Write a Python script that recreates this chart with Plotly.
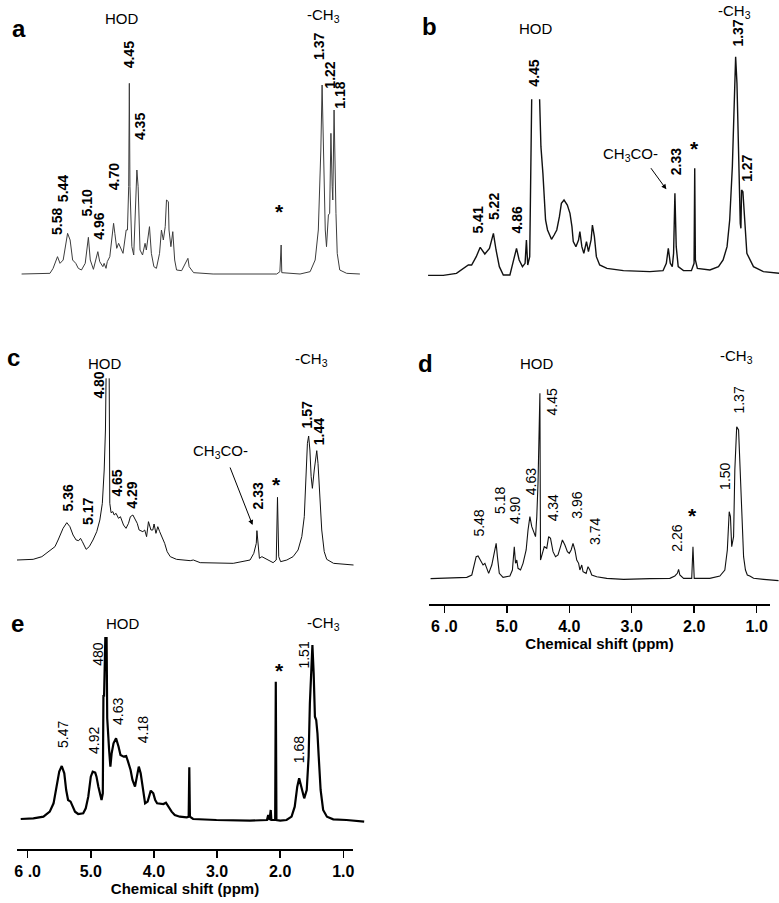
import plotly.graph_objects as go

W, H = 779, 903
FONT = "Liberation Sans"

# ---------------- data (ppm, relative intensity) ----------------
a_ppm = [6.16,5.71,5.66,5.59,5.55,5.50,5.43,5.39,5.35,5.30,5.26,5.21,5.15,5.12,5.10,5.07,5.02,4.95,4.92,4.87,4.85,4.82,4.80,4.76,4.70,4.68,4.65,4.62,4.59,4.55,4.50,4.48,4.46,4.45,4.44,4.41,4.38,4.33,4.31,4.28,4.24,4.20,4.18,4.13,4.10,4.06,4.02,3.97,3.94,3.91,3.88,3.86,3.83,3.82,3.79,3.76,3.73,3.70,3.62,3.57,3.52,3.50,3.43,3.12,2.38,2.11,2.06,2.04,2.03,1.74,1.58,1.50,1.45,1.41,1.39,1.37,1.34,1.32,1.29,1.27,1.25,1.23,1.22,1.20,1.19,1.17,1.15,1.11,1.00,0.79]
a_int = [-2,0,15,50,30,40,120,100,40,30,15,10,30,80,108,40,12,65,35,20,30,15,35,50,150,120,75,90,75,60,130,130,260,570,260,80,55,310,260,70,55,90,70,140,60,20,15,60,130,100,140,220,215,130,80,125,40,10,8,25,45,20,2,-2,-2,-2,5,85,2,-2,5,40,130,370,565,400,130,80,175,180,420,260,220,490,360,180,60,10,0,-2]

b_ppm = [6.06,5.83,5.63,5.52,5.45,5.40,5.33,5.27,5.20,5.13,5.07,5.03,4.98,4.92,4.82,4.77,4.72,4.68,4.63,4.59,4.57,4.55,4.52,4.49,None,4.37,4.35,4.32,4.30,4.28,4.25,4.21,4.19,4.15,4.11,4.07,4.04,4.00,3.95,3.91,3.88,3.86,3.82,3.78,3.76,3.73,3.70,3.66,3.63,3.59,3.57,3.54,3.51,3.46,3.35,3.10,2.70,2.50,2.45,2.42,2.39,2.36,2.34,2.32,2.30,2.27,2.19,2.07,2.03,2.02,2.01,1.98,1.79,1.66,1.59,1.53,1.49,1.45,1.42,1.40,1.38,1.35,1.33,1.32,1.31,1.29,1.27,1.23,1.13,0.98,0.74]
b_int = [-1,-1,5,20,30,30,55,83,63,80,125,75,25,0,0,40,80,45,25,35,105,30,55,527,None,527,385,305,225,165,135,117,107,120,135,175,215,225,210,185,145,100,85,105,130,85,65,100,70,105,150,115,55,30,20,13,10,13,35,80,35,25,65,245,85,25,13,13,35,320,45,20,15,25,45,85,165,325,495,655,575,275,155,140,255,250,175,65,25,10,5]

c_ppm = [6.25,5.99,5.85,5.77,5.69,5.64,5.59,5.56,5.51,5.45,5.40,5.35,5.30,5.26,5.23,5.20,5.14,5.09,5.03,4.97,4.92,4.88,4.85,4.83,4.82,None,4.77,4.76,4.74,4.71,4.69,4.66,4.62,4.59,4.54,4.50,4.46,4.43,4.39,4.36,4.32,4.29,4.23,4.20,4.17,4.14,4.10,4.07,4.05,4.02,3.99,3.96,3.91,3.88,3.84,3.79,3.69,3.47,3.42,3.31,2.78,2.51,2.45,2.41,2.40,2.38,2.36,2.32,2.30,2.24,2.14,2.09,2.07,2.05,2.02,1.92,1.82,1.74,1.68,1.64,1.61,1.59,1.57,1.55,1.53,1.51,1.48,1.46,1.44,1.42,1.39,1.36,1.32,1.28,1.17,0.85]
c_int = [0,2,10,22,35,40,60,75,95,112,100,75,60,58,65,55,32,40,60,85,120,170,270,390,545,None,545,170,142,145,135,140,125,130,105,95,110,130,135,125,110,90,85,90,70,115,90,90,108,80,100,85,65,50,25,10,2,-2,0,-8,-10,0,20,50,88,40,5,10,8,0,-8,0,188,10,-5,0,10,30,70,130,270,350,372,330,250,215,270,310,328,290,190,90,25,2,-10,-15]

d_ppm = [6.22,5.91,5.64,5.56,5.53,5.49,5.46,5.42,5.38,5.35,5.32,5.29,5.24,5.20,5.17,5.15,5.12,5.06,4.95,4.91,4.88,4.86,4.84,4.82,4.78,4.74,4.69,4.66,4.63,4.60,4.56,4.54,4.52,4.50,4.47,4.46,4.43,4.40,4.36,4.33,4.30,4.26,4.22,4.18,4.14,4.11,4.07,4.03,4.00,3.97,3.94,3.91,3.88,3.85,3.83,3.80,3.78,3.73,3.70,3.67,3.64,3.56,3.40,3.13,2.71,2.39,2.31,2.27,2.25,2.23,2.17,2.04,2.02,2.00,1.75,1.59,1.51,1.47,1.44,1.42,1.40,1.37,1.35,1.32,1.29,1.27,1.24,1.21,1.18,1.15,1.11,1.05,0.89,0.65]
d_int = [-1,0,3,10,35,65,67,55,40,45,30,15,40,80,105,65,15,3,7,25,95,45,55,30,25,45,85,145,185,155,135,125,185,285,555,55,75,95,90,125,120,80,65,70,95,115,100,80,75,85,105,85,55,45,25,40,20,15,35,25,10,5,0,-3,-1,0,7,15,27,10,0,0,95,0,0,7,25,85,200,185,95,125,325,455,445,345,185,65,25,10,7,0,-3,-7]

e_ppm = [6.11,5.91,5.75,5.65,5.59,5.54,5.50,5.46,5.42,5.39,5.36,5.32,5.29,5.25,5.20,5.12,5.08,5.04,5.00,4.97,4.93,4.91,4.88,4.85,4.83,4.81,4.80,4.79,4.77,4.75,4.74,4.73,4.72,4.71,4.69,4.67,4.64,4.60,4.56,4.53,4.48,4.44,4.41,4.37,4.34,4.30,4.27,4.24,4.21,4.18,4.14,4.10,4.07,4.05,4.01,3.98,3.95,3.90,3.85,3.81,3.77,3.72,3.67,3.59,3.48,3.45,3.44,3.43,3.38,3.01,2.48,2.21,2.19,2.17,2.15,2.14,2.08,2.07,2.06,2.00,1.90,1.82,1.77,1.73,1.70,1.68,1.64,1.62,1.58,1.55,1.53,1.50,1.49,1.47,1.45,1.43,1.41,1.39,1.36,1.32,1.26,1.16,0.95,0.67]
e_int = [-2,0,5,20,45,95,140,157,135,85,55,50,35,20,13,15,30,65,125,140,137,125,95,65,55,75,370,365,541,541,300,250,245,205,155,195,225,240,215,190,185,187,170,145,115,95,125,155,135,90,45,50,75,83,75,55,45,43,43,47,35,20,10,5,3,5,153,5,-2,-5,-7,-5,10,-5,25,-5,-5,410,-5,-7,-5,5,35,95,120,105,70,60,85,185,345,465,520,435,305,295,255,185,85,25,5,-3,-5,-10]

tick_vals = [6, 5, 4, 3, 2, 1]
tick_text = ["6 .0", "5.0", "4.0", "3.0", "2.0", "1.0"]
axis_title = "Chemical shift (ppm)"

# peak labels: (text, ppm, intensity)
a_labels = [("5.58",5.61,155),("5.44",5.49,255),("5.10",5.12,210),("4.96",4.93,140),("4.70",4.70,290),
            ("4.45",4.45,655),("4.35",4.29,440),("1.37",1.45,680),("1.22",1.27,595),("1.18",1.11,535)]
b_labels = [("5.41",5.31,165),("5.22",5.07,205),("4.86",4.72,165),("4.45",4.45,605),("2.33",2.31,340),
            ("1.37",1.36,725),("1.27",1.22,320)]
c_labels = [("4.80",4.94,525),("5.36",5.43,185),("5.17",5.12,145),("4.65",4.64,230),("4.29",4.41,195),
            ("2.33",2.39,192),("1.57",1.59,435),("1.44",1.41,385)]
d_labels = [("5.48",5.44,165),("5.18",5.11,235),("4.90",4.87,205),("4.63",4.62,290),("4.45",4.28,530),
            ("4.34",4.26,210),("3.96",3.88,220),("3.74",3.60,140),("2.26",2.27,120),("1.50",1.52,305),
            ("1.37",1.29,535)]
e_labels = [("480",4.88,495),("5.47",5.44,250),("4.92",4.95,235),("4.63",4.58,320),("4.18",4.17,265),
            ("1.51",1.63,490),("1.68",1.70,205)]

# headers: (text, ppm, intensity)
a_heads = [("HOD",4.57,765),("-CH<sub>3</sub>",1.37,775)]
b_heads = [("HOD",4.43,740),("-CH<sub>3</sub>",1.41,792),("CH<sub>3</sub>CO-",3.00,362)]
c_heads = [("HOD",4.84,590),("-CH<sub>3</sub>",1.52,600),("CH<sub>3</sub>CO-",2.99,325)]
d_heads = [("HOD",4.52,645),("-CH<sub>3</sub>",1.32,665)]
e_heads = [("HOD",4.49,586),("-CH<sub>3</sub>",1.32,586)]
stars = {"a": (2.07,200), "b": (2.03,395), "c": (2.09,242), "d": (2.02,205), "e": (2.01,460)}
arrows = {"b": ((2.45,257),(2.70,325)), "c": ((2.47,105),(2.84,282))}

# ---------------- layout helpers ----------------
def fx(p):
    return p / W

def fy(p):
    return 1 - p / H

panels = [
    dict(key="a", ppm=a_ppm, y=a_int, labels=a_labels, heads=a_heads, bold=True,
         xdom=(17, 365), xr=(6.233, 0.709), ydom=(285, 0), yr=(-35, 820),
         color="#3c3c3c", lw=1.0, letter=(19, 28)),
    dict(key="b", ppm=b_ppm, y=b_int, labels=b_labels, heads=b_heads, bold=True,
         xdom=(428, 779), xr=(6.061, 0.743), ydom=(287, 0), yr=(-36, 825),
         color="#111111", lw=1.4, letter=(430, 27)),
    dict(key="c", ppm=c_ppm, y=c_int, labels=c_labels, heads=c_heads, bold=True,
         xdom=(17, 365), xr=(6.249, 0.666), ydom=(600, 330), yr=(-120, 690),
         color="#111111", lw=1.0, letter=(13, 357)),
    dict(key="d", ppm=d_ppm, y=d_int, labels=d_labels, heads=d_heads, bold=False,
         xdom=(429, 779), xr=(6.245, 0.643), ydom=(600, 330), yr=(-65, 745),
         color="#111111", lw=1.1, letter=(425, 363)),
    dict(key="e", ppm=e_ppm, y=e_int, labels=e_labels, heads=e_heads, bold=False,
         xdom=(17, 365), xr=(6.169, 0.657), ydom=(845, 600), yr=(-80, 655),
         color="#000000", lw=2.2, letter=(17, 623)),
]

fig = go.Figure()
layout = dict(width=W, height=H, margin=dict(l=0, r=0, t=0, b=0),
              paper_bgcolor="white", plot_bgcolor="white", showlegend=False)
annotations = []

for i, p in enumerate(panels, start=1):
    xa = "x" if i == 1 else f"x{i}"
    ya = "y" if i == 1 else f"y{i}"
    fig.add_trace(go.Scatter(x=p["ppm"], y=p["y"], mode="lines", xaxis=xa, yaxis=ya,
                             line=dict(color=p["color"], width=p["lw"]),
                             connectgaps=False, hoverinfo="skip"))
    xkey = "xaxis" if i == 1 else f"xaxis{i}"
    ykey = "yaxis" if i == 1 else f"yaxis{i}"
    layout[xkey] = dict(domain=[fx(p["xdom"][0]), fx(p["xdom"][1])], range=list(p["xr"]),
                        visible=False, anchor=ya)
    layout[ykey] = dict(domain=[fy(p["ydom"][0]), fy(p["ydom"][1])], range=list(p["yr"]),
                        visible=False, anchor=xa)
    wt = "bold" if p["bold"] else "normal"
    for t, xv, yv in p["labels"]:
        annotations.append(dict(text=t, x=xv, y=yv, xref=xa, yref=ya, showarrow=False,
                                textangle=-90, xanchor="center", yanchor="middle",
                                font=dict(family=FONT, size=14, color="black", weight=wt)))
    for t, xv, yv in p["heads"]:
        annotations.append(dict(text=t, x=xv, y=yv, xref=xa, yref=ya, showarrow=False,
                                xanchor="center", yanchor="middle",
                                font=dict(family=FONT, size=15, color="black")))
    sx, sy = stars[p["key"]]
    annotations.append(dict(text="*", x=sx, y=sy, xref=xa, yref=ya, showarrow=False,
                            xanchor="center", yanchor="middle", yshift=-5,
                            font=dict(family=FONT, size=21, color="black", weight="bold")))
    if p["key"] in arrows:
        (hx, hy), (tx, ty) = arrows[p["key"]]
        annotations.append(dict(text="", x=hx, y=hy, ax=tx, ay=ty, xref=xa, yref=ya,
                                axref=xa, ayref=ya, showarrow=True, arrowhead=2,
                                arrowsize=1, arrowwidth=1, arrowcolor="black"))
    lx, ly = p["letter"]
    annotations.append(dict(text=p["key"], x=fx(lx), y=fy(ly), xref="paper", yref="paper",
                            showarrow=False, xanchor="center", yanchor="middle",
                            font=dict(family=FONT, size=24, color="black", weight="bold")))

# rulers (chemical shift axes under d and e)
rulers = [
    dict(idx=6, xdom=(429, 770), xr=(6.245, 0.787), liney=604),
    dict(idx=7, xdom=(17, 353), xr=(6.169, 0.847), liney=849),
]
for r in rulers:
    i = r["idx"]
    fig.add_trace(go.Scatter(x=[None], y=[None], xaxis=f"x{i}", yaxis=f"y{i}",
                             mode="lines", hoverinfo="skip"))
    layout[f"xaxis{i}"] = dict(domain=[fx(r["xdom"][0]), fx(r["xdom"][1])], range=list(r["xr"]),
                               anchor=f"y{i}", showline=True, linewidth=2, linecolor="black",
                               ticks="outside", ticklen=7, tickwidth=1.5, tickcolor="black",
                               tickvals=tick_vals, ticktext=tick_text, showgrid=False,
                               zeroline=False, automargin=False,
                               tickfont=dict(family=FONT, size=16, color="black", weight="bold"),
                               title=dict(text=axis_title, standoff=2,
                                          font=dict(family=FONT, size=15, color="black",
                                                    weight="bold")))
    layout[f"yaxis{i}"] = dict(domain=[fy(r["liney"]), fy(r["liney"]) + 0.01], range=[0, 1],
                               visible=False, anchor=f"x{i}")

layout["annotations"] = annotations
fig.update_layout(**layout)
fig.write_html("out.html",
               config={"displayModeBar": False, "staticPlot": True},
               post_script="document.body.style.margin='0px';document.body.style.overflow='hidden';")
